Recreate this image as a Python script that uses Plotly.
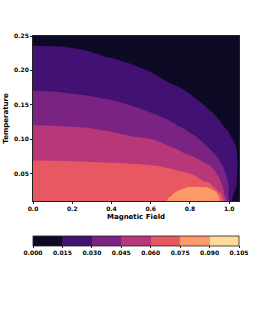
import plotly.graph_objects as go

# Magnetic field (x) grid and temperature (y) grid
field = [0.0, 0.1, 0.2, 0.3, 0.4, 0.5, 0.6, 0.7, 0.75, 0.8, 0.85, 0.9, 0.93, 0.95, 0.97, 0.985, 1.0, 1.02, 1.04, 1.05]
temperature = [0.01, 0.015, 0.02, 0.025, 0.03, 0.035, 0.04, 0.05, 0.06, 0.07, 0.08, 0.09, 0.10, 0.11, 0.12, 0.14, 0.16, 0.18, 0.20, 0.22, 0.24, 0.25]

# values, one row per temperature
row_t0100 = [0.0725, 0.0726, 0.0728, 0.0731, 0.0735, 0.0739, 0.0743, 0.07515, 0.0760, 0.0770, 0.0778, 0.0776, 0.0770, 0.0762, 0.0650, 0.0480, 0.0298, 0.0090, 0.0020, 0.0000]
row_t0150 = [0.0720, 0.0721, 0.0723, 0.0727, 0.0731, 0.0737, 0.0744, 0.07505, 0.0758, 0.0768, 0.0774, 0.0771, 0.0765, 0.0752, 0.0560, 0.0420, 0.0280, 0.0125, 0.0050, 0.0025]
row_t0200 = [0.0715, 0.0716, 0.0719, 0.0723, 0.0728, 0.0734, 0.0741, 0.0748, 0.0756, 0.0765, 0.0770, 0.0765, 0.0762, 0.0740, 0.0480, 0.0360, 0.0265, 0.0160, 0.0080, 0.0050]
row_t0250 = [0.0708, 0.0709, 0.0711, 0.0715, 0.0719, 0.0725, 0.0733, 0.0743, 0.0752, 0.0760, 0.0764, 0.0757, 0.0748, 0.0500, 0.0460, 0.0380, 0.0275, 0.0180, 0.0110, 0.0085]
row_t0300 = [0.0700, 0.0701, 0.0703, 0.0706, 0.0710, 0.0715, 0.0724, 0.0737, 0.0744, 0.0752, 0.0756, 0.0748, 0.0540, 0.0510, 0.0445, 0.0370, 0.0285, 0.0200, 0.0140, 0.0115]
row_t0350 = [0.0692, 0.0692, 0.0693, 0.0694, 0.0695, 0.0696, 0.0698, 0.0700, 0.0700, 0.0698, 0.0685, 0.0615, 0.0545, 0.0490, 0.0420, 0.0350, 0.0275, 0.0200, 0.0143, 0.0120]
row_t0400 = [0.0685, 0.0685, 0.0684, 0.0682, 0.0678, 0.0672, 0.0664, 0.0653, 0.0645, 0.0632, 0.0608, 0.0570, 0.0530, 0.0470, 0.0400, 0.0330, 0.0265, 0.0205, 0.0147, 0.0125]
row_t0500 = [0.0665, 0.0664, 0.0661, 0.0657, 0.0651, 0.0643, 0.0633, 0.0620, 0.0611, 0.0599, 0.0572, 0.0520, 0.0465, 0.0410, 0.0340, 0.0290, 0.0250, 0.0205, 0.0152, 0.0128]
row_t0600 = [0.0635, 0.0633, 0.0630, 0.0626, 0.0622, 0.0618, 0.0610, 0.0592, 0.0578, 0.0560, 0.0528, 0.0462, 0.0415, 0.0360, 0.0295, 0.0270, 0.0245, 0.0205, 0.0155, 0.0132]
row_t0700 = [0.0595, 0.0594, 0.0591, 0.0587, 0.0582, 0.0575, 0.0560, 0.0535, 0.0515, 0.0490, 0.0448, 0.0385, 0.0340, 0.0295, 0.0270, 0.0253, 0.0233, 0.0200, 0.0152, 0.0130]
row_t0800 = [0.0563, 0.0561, 0.0557, 0.0550, 0.0540, 0.0527, 0.0510, 0.0485, 0.0462, 0.0430, 0.0392, 0.0330, 0.0285, 0.0268, 0.0250, 0.0236, 0.0220, 0.0190, 0.0148, 0.0130]
row_t0900 = [0.0532, 0.0530, 0.0525, 0.0517, 0.0506, 0.0492, 0.0474, 0.0448, 0.0425, 0.0395, 0.0348, 0.0280, 0.0256, 0.0240, 0.0224, 0.0211, 0.0197, 0.0170, 0.0140, 0.0125]
row_t1000 = [0.0502, 0.0500, 0.0494, 0.0486, 0.0476, 0.0465, 0.0451, 0.0412, 0.0387, 0.0352, 0.0298, 0.0256, 0.0232, 0.0216, 0.0200, 0.0187, 0.0172, 0.0145, 0.0118, 0.0104]
row_t1100 = [0.0476, 0.0473, 0.0467, 0.0460, 0.0451, 0.0430, 0.0400, 0.0360, 0.0337, 0.0296, 0.0262, 0.0228, 0.0206, 0.0191, 0.0175, 0.0162, 0.0148, 0.0122, 0.0095, 0.0082]
row_t1200 = [0.0451, 0.0449, 0.0446, 0.0442, 0.0425, 0.0398, 0.0366, 0.0318, 0.0292, 0.0265, 0.0236, 0.0203, 0.0178, 0.0163, 0.0149, 0.0136, 0.0122, 0.0100, 0.0077, 0.0066]
row_t1400 = [0.0393, 0.0389, 0.0378, 0.0362, 0.0343, 0.0322, 0.0296, 0.0262, 0.0242, 0.0220, 0.0190, 0.0155, 0.0138, 0.0126, 0.0114, 0.0105, 0.0095, 0.0080, 0.0064, 0.0056]
row_t1600 = [0.0327, 0.0323, 0.0315, 0.0306, 0.0292, 0.0272, 0.0245, 0.0210, 0.0190, 0.0163, 0.0136, 0.0111, 0.0097, 0.0088, 0.0079, 0.0072, 0.0064, 0.0052, 0.0040, 0.0034]
row_t1800 = [0.0277, 0.0274, 0.0266, 0.0253, 0.0236, 0.0215, 0.0189, 0.0152, 0.0136, 0.0118, 0.0100, 0.0083, 0.0073, 0.0066, 0.0059, 0.0054, 0.0048, 0.0039, 0.0029, 0.0024]
row_t2000 = [0.0232, 0.0229, 0.0220, 0.0207, 0.0190, 0.0169, 0.0145, 0.0118, 0.0104, 0.0090, 0.0076, 0.0062, 0.0054, 0.0048, 0.0042, 0.0038, 0.0033, 0.0025, 0.0017, 0.0013]
row_t2200 = [0.0188, 0.0184, 0.0174, 0.0159, 0.0146, 0.0128, 0.0108, 0.0088, 0.0077, 0.0066, 0.0056, 0.0046, 0.0040, 0.0035, 0.0030, 0.0026, 0.0022, 0.0016, 0.0010, 0.0007]
row_t2400 = [0.0140, 0.0139, 0.0136, 0.0131, 0.0123, 0.0112, 0.0098, 0.0081, 0.0071, 0.0061, 0.0046, 0.0036, 0.0030, 0.0026, 0.0022, 0.0018, 0.0014, 0.0009, 0.0004, 0.0002]
row_t2500 = [0.0117, 0.0115, 0.0110, 0.0102, 0.0091, 0.0078, 0.0062, 0.0045, 0.0036, 0.0027, 0.0019, 0.0012, 0.0008, 0.0006, 0.0004, 0.0002, 0.0001, 0.0000, 0.0000, 0.0000]

gap = [row_t0100, row_t0150, row_t0200, row_t0250, row_t0300, row_t0350, row_t0400,
       row_t0500, row_t0600, row_t0700, row_t0800, row_t0900, row_t1000, row_t1100,
       row_t1200, row_t1400, row_t1600, row_t1800, row_t2000, row_t2200, row_t2400, row_t2500]

levels = [0.0, 0.015, 0.030, 0.045, 0.060, 0.075, 0.090, 0.105]
level_labels = ["0.000", "0.015", "0.030", "0.045", "0.060", "0.075", "0.090", "0.105"]
x_ticks = [0.0, 0.2, 0.4, 0.6, 0.8, 1.0]
x_labels = ["0.0", "0.2", "0.4", "0.6", "0.8", "1.0"]
y_ticks = [0.05, 0.10, 0.15, 0.20, 0.25]
y_labels = ["0.05", "0.10", "0.15", "0.20", "0.25"]

band_colors = ["#0d0a26", "#411173", "#7a2382", "#b73779", "#e85862", "#fe996a", "#fedb9c"]

# discrete colorscale: one flat step per contour band
n = len(band_colors)
cs = []
for k, c in enumerate(band_colors):
    cs.append([k / n, c])
    cs.append([(k + 1) / n, c])

FONT = "DejaVu Sans"
tick_font = dict(family=FONT, size=6, color="#000", weight="bold")
title_font = dict(family=FONT, size=7, color="#000", weight="bold")

fig = go.Figure()

# same data as a transparent heatmap: it only carries the stepped colour bar
fig.add_trace(go.Heatmap(
    x=field, y=temperature, z=gap,
    zmin=levels[0], zmax=levels[-1], colorscale=cs, opacity=0,
    hoverinfo="skip",
    colorbar=dict(
        orientation="h", x=0, xanchor="left", y=-0.212, yanchor="top",
        len=1, lenmode="fraction", thickness=10, xpad=0, ypad=0,
        outlinewidth=0.8, outlinecolor="#222",
        tickvals=levels, ticktext=level_labels, tickfont=tick_font,
        ticks="outside", ticklen=2, tickcolor="#222",
    ),
))

fig.add_trace(go.Contour(
    x=field, y=temperature, z=gap,
    autocontour=False,
    contours=dict(start=levels[0], end=levels[-1], size=0.015, coloring="fill", showlines=False),
    line=dict(width=0, smoothing=1.3),
    colorscale=cs, showscale=False,
    hoverinfo="skip",
))

fig.update_layout(
    width=266, height=310,
    margin=dict(l=33, r=27, t=36, b=109, autoexpand=False),
    paper_bgcolor="white", plot_bgcolor="white",
    showlegend=False,
)
fig.update_xaxes(
    range=[0, 1.05], tickvals=x_ticks, ticktext=x_labels, tickfont=tick_font,
    ticks="outside", ticklen=2, tickcolor="#222", automargin=False,
    showline=True, linecolor="#222", linewidth=0.8, mirror=True, showgrid=False, zeroline=False,
    title=dict(text="Magnetic Field", font=title_font, standoff=3),
)
fig.update_yaxes(
    range=[0.01, 0.25], tickvals=y_ticks, ticktext=y_labels, tickfont=tick_font,
    ticks="outside", ticklen=2, tickcolor="#222", automargin=False,
    showline=True, linecolor="#222", linewidth=0.8, mirror=True, showgrid=False, zeroline=False,
    title=dict(text="Temperature", font=title_font, standoff=4),
)

fig.write_html("out.html", config={"displayModeBar": False},
               post_script="document.body.style.margin='0';")
